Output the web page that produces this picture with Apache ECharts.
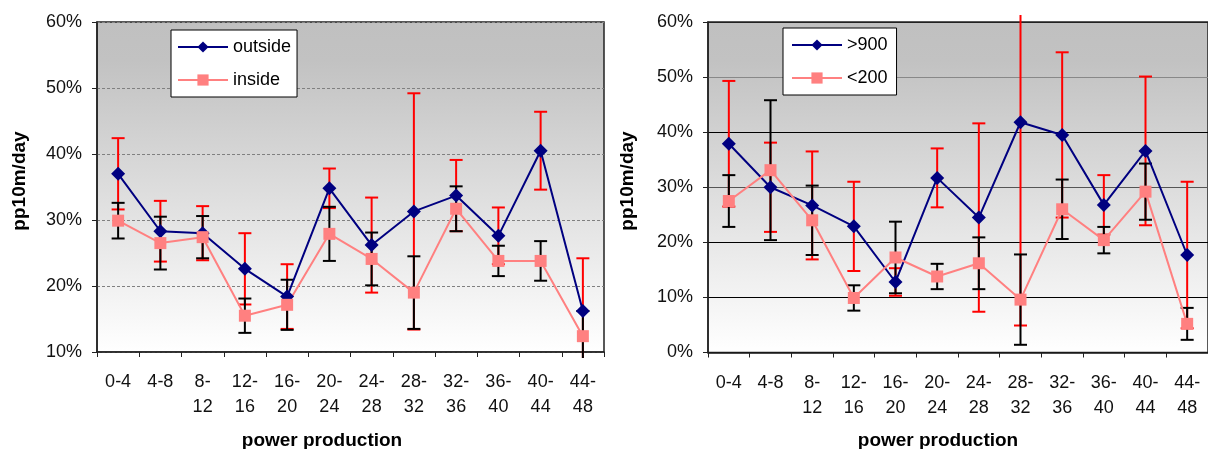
<!DOCTYPE html>
<html>
<head>
<meta charset="utf-8">
<script src="https://cdn.jsdelivr.net/npm/echarts@6/dist/echarts.min.js"></script>
<style>
html,body{margin:0;padding:0;background:#fff;}
#chart{width:1208px;height:449px;}
</style>
</head>
<body>
<div id="chart"></div>
<script>
// ---- data ----
const categories = ['0-4','4-8','8-12','12-16','16-20','20-24','24-28','28-32','32-36','36-40','40-44','44-48'];

const outsideVals = [37.0, 28.3, 28.0, 22.6, 18.4, 34.8, 26.2, 31.3, 33.7, 27.6, 40.5, 16.2];
const outsideErr  = [5.4, 4.6, 4.1, 5.4, 4.9, 3.0, 7.2, 17.9, 5.4, 4.3, 5.9, 8.0];
const insideVals  = [29.9, 26.5, 27.4, 15.5, 17.15, 27.9, 24.1, 19.0, 31.7, 23.8, 23.8, 12.4];
const insideErr   = [2.7, 4.0, 3.2, 2.6, 3.8, 4.1, 4.0, 5.5, 3.4, 2.3, 3.0, 3.8];

const over900Vals  = [37.9, 30.0, 26.7, 22.9, 12.8, 31.7, 24.5, 41.8, 39.5, 26.8, 36.6, 17.7];
const over900Err   = [11.4, 8.1, 9.8, 8.1, 2.5, 5.35, 17.1, 36.9, 15.0, 5.4, 13.5, 13.3];
const under200Vals = [27.5, 33.1, 24.0, 9.9, 17.25, 13.8, 16.2, 9.6, 26.0, 20.4, 29.2, 5.2];
const under200Err  = [4.7, 12.7, 6.3, 2.3, 6.5, 2.3, 4.7, 8.2, 5.4, 2.4, 5.1, 2.9];

const leftYTicks  = [10, 20, 30, 40, 50, 60];
const rightYTicks = [0, 10, 20, 30, 40, 50, 60];

// ---- styles ----
const FONT = 'Liberation Sans, Arial, sans-serif';
const NAVY = '#000080', PINK = '#FF8080', RED = '#FF0000', BLACK = '#000000';

const bgGrad = {type:'linear', x:0, y:0, x2:0, y2:1, colorStops:[
  {offset:0, color:'#c0c0c0'}, {offset:0.12, color:'#c2c2c2'}, {offset:1, color:'#ffffff'}]};

function errData(vals, errs){ return vals.map((v,i)=>[i, v, errs[i]]); }

function errRender(color){
  return function(params, api){
    const i = api.value(0), v = api.value(1), e = api.value(2);
    const c = api.coord([i, v]);
    const top = api.coord([i, v + e])[1];
    const bot = api.coord([i, v - e])[1];
    const cs = params.coordSys;
    const yMin = cs.y - 7, yMax = cs.y + cs.height + 6;
    const t = Math.max(top, yMin), b = Math.min(bot, yMax);
    const hw = 6.5;
    const st = {stroke: color, lineWidth: 2};
    const ch = [{type:'line', shape:{x1:c[0], y1:t, x2:c[0], y2:b}, style:st}];
    if (top >= yMin) ch.push({type:'line', shape:{x1:c[0]-hw, y1:top, x2:c[0]+hw, y2:top}, style:st});
    if (bot <= yMax) ch.push({type:'line', shape:{x1:c[0]-hw, y1:bot, x2:c[0]+hw, y2:bot}, style:st});
    return {type:'group', children: ch};
  };
}

function xAxisFor(gi){
  return {
    type:'category', gridIndex: gi, data: categories, boundaryGap: true,
    axisLine:{show:true, lineStyle:{color:'#222', width:1.5}},
    axisTick:{show:true, length:5, inside:false, lineStyle:{color:'#222', width:1}},
    axisLabel:{interval:0, margin:18, fontSize:18, lineHeight:25, color:'#111', fontFamily:FONT,
      formatter: v => v.length > 3 ? v.replace('-', '-\n') : v},
    splitLine:{show:false}
  };
}

function yAxisFor(gi, min, splitColors, dashed){
  return {
    type:'value', gridIndex: gi, min: min, max: 60, interval: 10,
    axisLine:{show:true, lineStyle:{color:'#222', width:1.5}},
    axisTick:{show:true, length:5, inside:false, lineStyle:{color:'#222'}},
    axisLabel:{margin:15, fontSize:18, color:'#111', fontFamily:FONT, formatter: v => v + '%'},
    splitLine:{show:true, lineStyle:{color: splitColors, width:1, type: dashed ? [3,2] : 'solid'}}
  };
}

function lineSeries(name, vals, gi, color, symbol, size){
  return {
    name, type:'line', xAxisIndex: gi, yAxisIndex: gi, data: vals,
    symbol, symbolSize: size, showAllSymbol:true, z: 5,
    lineStyle:{color, width:2}, itemStyle:{color}
  };
}

function errSeries(name, vals, errs, gi, color, z){
  return {
    name, type:'custom', xAxisIndex: gi, yAxisIndex: gi, z: z, silent:true,
    encode:{x:0, y:1}, data: errData(vals, errs), renderItem: errRender(color), clip:false
  };
}

const chart = echarts.init(document.getElementById('chart'), null, {renderer:'canvas'});

const legendCommon = {
  orient:'vertical', backgroundColor:'#fff', borderColor:'#000', borderWidth:1,
  itemWidth:50, itemHeight:14, itemGap:15,
  textStyle:{fontSize:18, color:'#000', fontFamily:FONT}
};

chart.setOption({
  animation:false,
  textStyle:{fontFamily:FONT},
  grid:[
    {left:97, top:22, width:507, height:330, show:true, backgroundColor:bgGrad, borderColor:'#222', borderWidth:1.5},
    {left:708, top:22, width:508, height:330.5, show:true, backgroundColor:bgGrad, borderColor:'#222', borderWidth:1.5}
  ],
  xAxis:[xAxisFor(0), xAxisFor(1)],
  yAxis:[
    yAxisFor(0, 10, '#808080', true),
    yAxisFor(1, 0, ['#000','#000','#000','#555','#000','#888','#222'], false)
  ],
  legend:[
    Object.assign({}, legendCommon, {data:['outside','inside'], left:171, top:30, padding:[8,6,8,6]}),
    Object.assign({}, legendCommon, {data:['>900','<200'], left:783, top:28, padding:[8,9,8,8]})
  ],
  series:[
    errSeries('outside err', outsideVals, outsideErr, 0, RED, 2),
    errSeries('inside err', insideVals, insideErr, 0, BLACK, 3),
    lineSeries('outside', outsideVals, 0, NAVY, 'diamond', 14),
    lineSeries('inside', insideVals, 0, PINK, 'rect', 12),
    errSeries('>900 err', over900Vals, over900Err, 1, RED, 2),
    errSeries('<200 err', under200Vals, under200Err, 1, BLACK, 3),
    lineSeries('>900', over900Vals, 1, NAVY, 'diamond', 14),
    lineSeries('<200', under200Vals, 1, PINK, 'rect', 12)
  ],
  graphic:[
    {type:'text', x:20, y:181, rotation:Math.PI/2, style:{text:'pp10m/day', font:'bold 19px ' + FONT, fill:'#000', textAlign:'center', textVerticalAlign:'middle'}},
    {type:'text', x:628, y:181, rotation:Math.PI/2, style:{text:'pp10m/day', font:'bold 19px ' + FONT, fill:'#000', textAlign:'center', textVerticalAlign:'middle'}},
    {type:'text', x:322, y:441, style:{text:'power production', font:'bold 19px ' + FONT, fill:'#000', textAlign:'center', textVerticalAlign:'middle'}},
    {type:'text', x:938, y:441, style:{text:'power production', font:'bold 19px ' + FONT, fill:'#000', textAlign:'center', textVerticalAlign:'middle'}}
  ]
});
</script>
</body>
</html>
